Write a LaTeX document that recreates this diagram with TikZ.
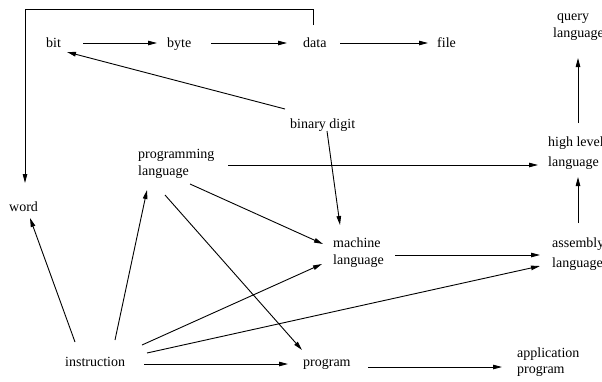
\documentclass[tikz,border=0pt]{standalone}
\usepackage{fontspec}
\setmainfont{Liberation Serif}
\usetikzlibrary{arrows.meta}
\newcommand{\twolines}[3][0pt]{\begin{tabular}[t]{@{}l@{}}#2\\[#1]#3\end{tabular}}
\begin{document}
\begin{tikzpicture}[x=1pt,y=-1pt,
  lbl/.style={inner sep=0pt, anchor=base west, font=\fontsize{14}{17}\selectfont},
  arr/.style={line width=0.9pt, -{Triangle[length=9pt,width=4.5pt]}}]
\useasboundingbox (0,0) rectangle (602,381);
% nodes
\node[lbl] (bit)   at (46,47)  {bit};
\node[lbl] (byte)  at (167,47) {byte};
\node[lbl] (data)  at (303,47) {data};
\node[lbl] (file)  at (437,47) {file};
\node[lbl] (query) at (553,20) {\twolines{\hspace{4pt}query}{language}};
\node[lbl] (bin)   at (290,128) {binary digit};
\node[lbl] (hl)    at (548,146) {\twolines[3pt]{high level}{language}};
\node[lbl] (prog)  at (138,158) {\twolines{programming}{language}};
\node[lbl] (word)  at (9,211)  {word};
\node[lbl] (mach)  at (333,247) {\twolines{machine}{language}};
\node[lbl] (asm)   at (552,247) {\twolines[3pt]{assembly}{language}};
\node[lbl] (instr) at (65,366) {instruction};
\node[lbl] (pgm)   at (303,366) {program};
\node[lbl] (app)   at (517,357) {\twolines[-1pt]{application}{program}};
% connectors
\draw[arr] ([shift={(37,-4)}]bit.base west) -- ([shift={(-10,-4)}]byte.base west);
\draw[arr] ([shift={(44,-4)}]byte.base west) -- ([shift={(-16,-4)}]data.base west);
\draw[arr] ([shift={(37,-4)}]data.base west) -- ([shift={(-9,-4)}]file.base west);
\draw[arr] ([shift={(-5,-19)}]bin.base west) -- ([shift={(21,5)}]bit.base west);
\draw[arr] ([shift={(10,-22)}]data.base west) -- ++(0,-16) -| ([shift={(16,-28)}]word.base west);
\draw[arr] ([shift={(30,-23)}]hl.base west) -- ([shift={(25,38)}]query.base west);
\draw[arr] ([shift={(90,7)}]prog.base west) -- ([shift={(-10,19)}]hl.base west);
\draw[arr] ([shift={(37,3)}]bin.base west) -- ([shift={(7,-22)}]mach.base west);
\draw[arr] ([shift={(26,-24)}]asm.base west) -- ([shift={(30,31)}]hl.base west);
\draw[arr] ([shift={(52,26)}]prog.base west) -- ([shift={(-10,-3)}]mach.base west);
\draw[arr] ([shift={(77,-21)}]instr.base west) -- ([shift={(-11,17)}]mach.base west);
\draw[arr] ([shift={(82,-13)}]instr.base west) -- ([shift={(-12,19)}]asm.base west);
\draw[arr] ([shift={(62,8)}]mach.base west) -- ([shift={(-12,8)}]asm.base west);
\draw[arr] ([shift={(10,-24)}]instr.base west) -- ([shift={(21,7)}]word.base west);
\draw[arr] ([shift={(50,-26)}]instr.base west) -- ([shift={(9,32)}]prog.base west);
\draw[arr] ([shift={(27,37)}]prog.base west) -- ([shift={(-1,-16)}]pgm.base west);
\draw[arr] ([shift={(79,-2)}]instr.base west) -- ([shift={(-15,-2)}]pgm.base west);
\draw[arr] ([shift={(65,1)}]pgm.base west) -- ([shift={(-15,10)}]app.base west);
\end{tikzpicture}
\end{document}
